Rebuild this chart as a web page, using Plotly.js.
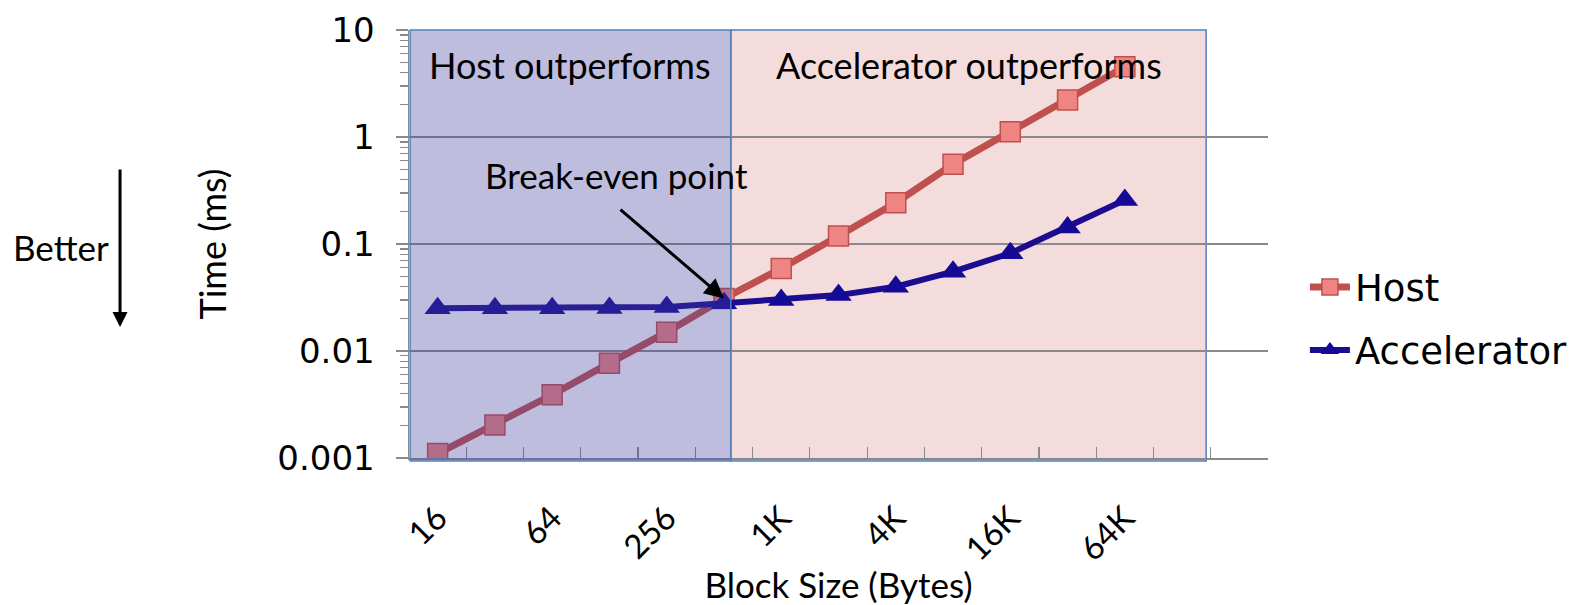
<!DOCTYPE html>
<html>
<head>
<meta charset="utf-8">
<script src="https://cdn.plot.ly/plotly-3.0.1.min.js"></script>
<style>html,body{margin:0;padding:0;background:#fff;}#chart{width:1574px;height:605px;}</style>
</head>
<body>
<div id="chart"></div>
<script>
// ---- data ----
const categories = ['16','32','64','128','256','512','1K','2K','4K','8K','16K','32K','64K'];
const hostTime = [0.0011, 0.00203, 0.0039, 0.0077, 0.0150, 0.031, 0.059, 0.119, 0.243, 0.556, 1.12, 2.22, 4.54];
const accelTime = [0.0251, 0.0251, 0.0251, 0.0252, 0.0258, 0.0279, 0.030, 0.0333, 0.0399, 0.0551, 0.0819, 0.143, 0.258];
const yTickVals = [0.001, 0.01, 0.1, 1, 10];
const yTickText = ['0.001', '0.01', '0.1', '1', '10'];
const xTickLabels = categories.filter((c, i) => i % 2 === 0);
const extraSlots = 2;            // empty category slots at the right end of the axis
const breakEvenIndex = 5;        // '512'
const regionSplit = 5.12;        // boundary between the two shaded regions (category index units)
const regionEnd = 13.42;

const nSlots = categories.length + extraSlots;
const xRange = [-0.5, nSlots - 0.5];
const boundaries = Array.from({length: nSlots + 1}, (_, i) => i - 0.5);
const minorY = [];
for (let d = -3; d < 1; d++) for (let k = 2; k <= 9; k++) minorY.push(k * Math.pow(10, d));

const calib = "Lato, 'Open Sans', sans-serif";
const dejavu = "'DejaVu Sans', Verdana, sans-serif";
const grey = '#8a8a8a';
const blueEdge = 'rgb(79,129,189)';

const traces = [
  {
    x: categories, y: hostTime, name: 'Host', type: 'scatter', mode: 'lines+markers',
    legendgroup: 'h',
    line: {color: '#c0504d', width: 7},
    marker: {symbol: 'square', size: 20, color: '#ef8582', line: {color: '#c0504d', width: 1.5}}
  },
  {
    x: categories, y: accelTime, name: 'Accelerator', type: 'scatter', mode: 'lines+markers',
    legendgroup: 'a',
    line: {color: '#1c0c90', width: 6},
    marker: {symbol: 'triangle-up', size: 23, color: '#140a96'}
  },
  // carrier for the boundary tick marks of the category axis
  {x: [xRange[0]], y: [yTickVals[0]], xaxis: 'x2', yaxis: 'y', type: 'scatter', mode: 'markers',
   marker: {opacity: 0, size: 1}, showlegend: false, hoverinfo: 'skip'}
];

const layout = {
  width: 1574, height: 605,
  margin: {l: 409, r: 306, t: 30, b: 147, pad: 0, autoexpand: false},
  paper_bgcolor: '#fff', plot_bgcolor: 'rgba(0,0,0,0)',
  showlegend: true,
  legend: {
    x: 1.043, xanchor: 'left', y: 0.325, yanchor: 'middle',
    font: {family: dejavu, size: 37, color: '#000'},
    bgcolor: 'rgba(0,0,0,0)', tracegroupgap: 12, itemwidth: 40
  },
  xaxis: {
    type: 'category', categoryorder: 'array', categoryarray: categories,
    range: xRange,
    tickmode: 'array', tickvals: xTickLabels, ticktext: xTickLabels,
    tickangle: -45, ticks: '', ticklabelstandoff: 26,
    tickfont: {family: calib, size: 33, color: '#000'},
    showgrid: false, zeroline: false,
    showline: true, linecolor: grey, linewidth: 1.5,
    title: {text: 'Block Size (Bytes)', font: {family: calib, size: 35, color: '#000'}, standoff: 16}
  },
  xaxis2: {
    overlaying: 'x', anchor: 'y', side: 'bottom', type: 'linear',
    range: xRange, tickmode: 'array', tickvals: boundaries,
    ticks: 'inside', ticklen: 11, tickwidth: 1.2, tickcolor: grey,
    showticklabels: false, showgrid: false, zeroline: false, showline: false
  },
  yaxis: {
    type: 'log', range: [-3, 1],
    tickmode: 'array', tickvals: yTickVals, ticktext: yTickText,
    ticks: 'outside', ticklen: 12, tickwidth: 1.2, tickcolor: grey,
    ticklabelstandoff: 14,
    tickfont: {family: dejavu, size: 34, color: '#000'},
    minor: {tickvals: minorY, ticks: 'outside', ticklen: 8, tickwidth: 1.2, tickcolor: grey, showgrid: false},
    showgrid: true, gridcolor: grey, gridwidth: 1.5,
    zeroline: false, showline: true, linecolor: grey, linewidth: 1.5,
    title: {text: 'Time (ms)', font: {family: calib, size: 36, color: '#000'}, standoff: 40}
  },
  shapes: [
    {type: 'rect', layer: 'below', xref: 'x', yref: 'paper',
     x0: regionSplit, x1: regionEnd, y0: -0.007, y1: 1,
     fillcolor: '#f5dcdc', line: {color: blueEdge, width: 1.5}},
    {type: 'rect', layer: 'above', xref: 'x', yref: 'paper',
     x0: -0.48, x1: regionSplit, y0: -0.007, y1: 1,
     fillcolor: 'rgba(69,66,158,0.35)', line: {color: blueEdge, width: 1.5}}
  ],
  annotations: [
    {text: 'Host outperforms', xref: 'x', yref: 'paper', x: (-0.5 + regionSplit) / 2, y: 0.918,
     showarrow: false, xanchor: 'center', yanchor: 'middle', font: {family: calib, size: 36, color: '#000'}},
    {text: 'Accelerator outperforms', xref: 'x', yref: 'paper', x: (regionSplit + regionEnd) / 2, y: 0.918,
     showarrow: false, xanchor: 'center', yanchor: 'middle', font: {family: calib, size: 36, color: '#000'}},
    {text: 'Break-even point', xref: 'paper', yref: 'paper', x: 0.242, y: 0.661,
     showarrow: false, xanchor: 'center', yanchor: 'middle', font: {family: calib, size: 35, color: '#000'}},
    {text: '', xref: 'x', yref: 'y', x: breakEvenIndex, y: Math.log10(hostTime[breakEvenIndex]),
     showarrow: true, arrowhead: 2, arrowsize: 1.3, arrowwidth: 3, arrowcolor: '#000',
     ax: -105, ay: -90, standoff: 0},
    {text: 'Better', xref: 'paper', yref: 'paper', x: -0.405, y: 0.493,
     showarrow: false, xanchor: 'center', yanchor: 'middle', font: {family: calib, size: 35, color: '#000'}},
    {text: '', xref: 'paper', yref: 'paper', x: -0.3364, y: 0.306,
     showarrow: true, arrowhead: 2, arrowsize: 1, arrowwidth: 3, arrowcolor: '#000',
     ax: 0, ay: -159, standoff: 0}
  ]
};

Plotly.newPlot('chart', traces, layout, {displayModeBar: false, staticPlot: true});
</script>
</body>
</html>
